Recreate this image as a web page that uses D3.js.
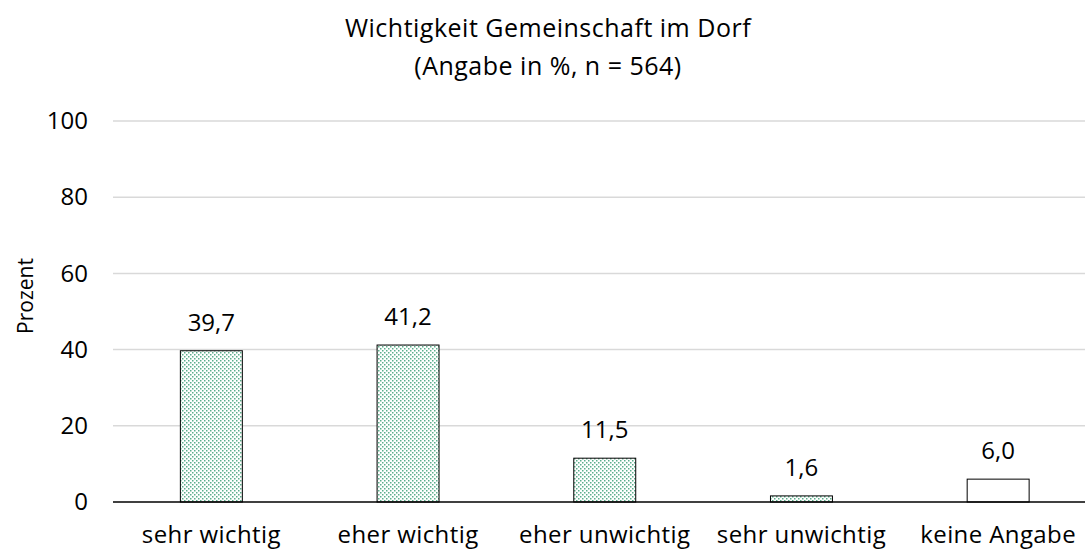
<!DOCTYPE html>
<html>
<head>
<meta charset="utf-8">
<script src="https://cdn.jsdelivr.net/npm/d3@7"></script>
<style>
  body { margin: 0; background: #fff; }
  svg { display: block; font-family: 'Open Sans', sans-serif; }
</style>
</head>
<body>
<main></main>
<script>
const width = 1085
const height = 550
const font = "'Open Sans', sans-serif"

const categories = ['sehr wichtig', 'eher wichtig', 'eher unwichtig', 'sehr unwichtig', 'keine Angabe']
const values = [39.7, 41.2, 11.5, 1.6, 6.0]
const patterned = [true, true, true, true, false]
const yTicks = [0, 20, 40, 60, 80, 100]

const svg = d3.select('main')
  .append('svg')
  .attr('width', width)
  .attr('height', height)

// dotted fill
const pattern = svg.append('defs')
  .append('pattern')
  .attr('id', 'dots')
  .attr('patternUnits', 'userSpaceOnUse')
  .attr('width', 4)
  .attr('height', 4)
pattern.append('rect').attr('width', 4).attr('height', 4).attr('fill', '#fff')
pattern.append('rect').attr('x', 0).attr('y', 0).attr('width', 1.5).attr('height', 1.5).attr('fill', '#5cae8c')
pattern.append('rect').attr('x', 2).attr('y', 2).attr('width', 1.5).attr('height', 1.5).attr('fill', '#5cae8c')

const xScale = d3.scaleBand()
  .domain(categories)
  .range([113, 1096.5])
  .paddingInner(0.685)
  .paddingOuter(0.3425)

const yScale = d3.scaleLinear()
  .domain([0, 100])
  .range([502, 121])

// Title
svg.append('text')
  .attr('x', 548).attr('y', 37)
  .attr('text-anchor', 'middle')
  .style('font-size', '25px')
  .style('letter-spacing', '0.5px')
  .text('Wichtigkeit Gemeinschaft im Dorf')
svg.append('text')
  .attr('x', 548).attr('y', 75)
  .attr('text-anchor', 'middle')
  .style('font-size', '25px')
  .style('letter-spacing', '0.5px')
  .text('(Angabe in %, n = 564)')

// gridlines
svg.append('g')
  .selectAll('line')
  .data(yTicks.filter(d => d > 0))
  .enter()
  .append('line')
  .attr('x1', 113).attr('x2', width)
  .attr('y1', d => yScale(d)).attr('y2', d => yScale(d))
  .style('stroke', '#d9d9d9')
  .style('stroke-width', 1.5)

// y-axis
const yAxis = d3.axisLeft(yScale)
  .tickValues(yTicks)
  .tickSize(0)
  .tickPadding(25)
svg.append('g')
  .attr('id', 'y-axis')
  .attr('transform', 'translate(113, 0)')
  .call(yAxis)
  .call(g => g.select('.domain').remove())
  .call(g => g.selectAll('text').style('font-size', '24px').style('fill', '#000').style('font-family', font))

svg.append('text')
  .text('Prozent')
  .attr('transform', 'translate(33, 296) rotate(-90)')
  .attr('text-anchor', 'middle')
  .style('font-size', '21px')

// bars
svg.selectAll('.bar')
  .data(values)
  .enter()
  .append('rect')
  .attr('class', 'bar')
  .attr('x', (d, i) => xScale(categories[i]))
  .attr('y', d => yScale(d))
  .attr('width', xScale.bandwidth())
  .attr('height', d => yScale(0) - yScale(d))
  .style('fill', (d, i) => patterned[i] ? 'url(#dots)' : '#fff')
  .style('stroke', '#000')
  .style('stroke-width', 1)

// value labels
svg.selectAll('.value')
  .data(values)
  .enter()
  .append('text')
  .attr('class', 'value')
  .attr('x', (d, i) => xScale(categories[i]) + xScale.bandwidth() / 2)
  .attr('y', d => yScale(d) - 20)
  .attr('text-anchor', 'middle')
  .style('font-size', '24px')
  .text(d => d.toFixed(1).replace('.', ','))

// x-axis
const xAxis = d3.axisBottom(xScale)
  .tickSize(0)
  .tickPadding(24)
svg.append('g')
  .attr('id', 'x-axis')
  .attr('transform', 'translate(0, 502)')
  .call(xAxis)
  .call(g => g.select('.domain').attr('d', `M113,0H${width}`).style('stroke', '#000').style('stroke-width', 1.5))
  .call(g => g.selectAll('text').style('font-size', '24px').style('letter-spacing', '0.4px').style('fill', '#000').style('font-family', font))
</script>
</body>
</html>
